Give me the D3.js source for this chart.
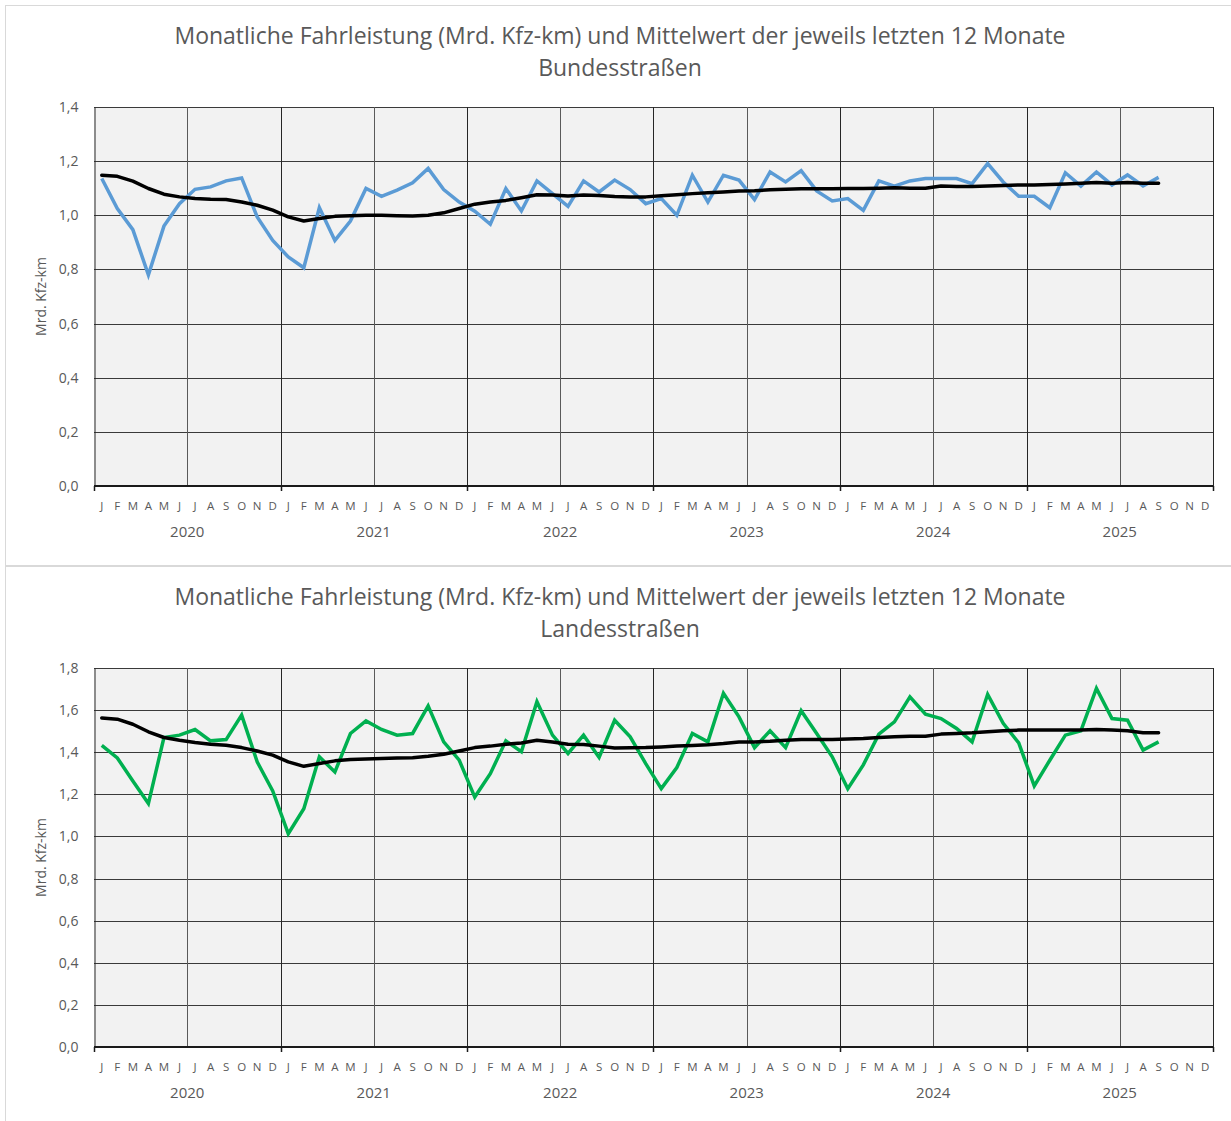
<!DOCTYPE html>
<html>
<head>
<meta charset="utf-8">
<script src="https://cdn.jsdelivr.net/npm/d3@7"></script>
<style>
  body { margin: 0; background: #fff; }
  svg { display: block; font-family: "Open Sans", "Noto Sans", sans-serif; }
</style>
</head>
<body>
<svg id="chart" width="1231" height="1121"></svg>
<script>
// Monatsbuchstaben und Jahre der x-Achse
var monthLetters = ["J","F","M","A","M","J","J","A","S","O","N","D"];
var years = ["2020","2021","2022","2023","2024","2025"];

// Bundesstraßen: Monatswerte Jan 2020 - Sep 2025 (Mrd. Kfz-km)
var bundMonat = [1.136,1.025,0.947,0.78,0.96,1.043,1.096,1.105,1.127,1.138,0.994,0.907,
  0.846,0.806,1.028,0.907,0.979,1.099,1.07,1.093,1.12,1.173,1.095,1.049,
  1.015,0.967,1.099,1.016,1.127,1.08,1.033,1.127,1.086,1.13,1.095,1.043,
  1.062,1.0,1.148,1.049,1.148,1.13,1.058,1.16,1.123,1.165,1.09,1.053,
  1.062,1.018,1.127,1.108,1.127,1.136,1.136,1.136,1.117,1.191,1.123,1.07,
  1.07,1.028,1.157,1.108,1.16,1.112,1.149,1.108,1.14];
// Bundesstraßen: Mittelwert der letzten 12 Monate
var bundMittel = [1.148,1.144,1.126,1.099,1.078,1.068,1.062,1.059,1.058,1.049,1.037,1.019,
  0.994,0.979,0.988,0.996,0.998,1.0,1.0,0.998,0.997,1.0,1.009,1.025,
  1.041,1.049,1.055,1.065,1.076,1.075,1.071,1.075,1.073,1.069,1.068,1.068,
  1.072,1.076,1.08,1.083,1.086,1.09,1.091,1.094,1.096,1.098,1.098,1.098,
  1.099,1.099,1.1,1.102,1.1,1.1,1.108,1.106,1.106,1.108,1.11,1.112,
  1.112,1.114,1.116,1.118,1.121,1.118,1.121,1.118,1.118];

// Landesstraßen: Monatswerte Jan 2020 - Sep 2025
var landMonat = [1.433,1.373,1.263,1.156,1.47,1.481,1.508,1.454,1.46,1.576,1.354,1.216,
  1.013,1.132,1.378,1.306,1.489,1.549,1.508,1.481,1.489,1.62,1.449,1.362,
  1.187,1.298,1.454,1.402,1.64,1.481,1.394,1.481,1.375,1.552,1.473,1.346,
  1.227,1.327,1.489,1.449,1.68,1.568,1.422,1.502,1.422,1.597,1.489,1.378,
  1.227,1.34,1.486,1.544,1.663,1.581,1.56,1.513,1.449,1.675,1.537,1.444,
  1.24,1.362,1.481,1.502,1.703,1.56,1.552,1.41,1.449];
// Landesstraßen: Mittelwert der letzten 12 Monate
var landMittel = [1.563,1.557,1.533,1.497,1.47,1.457,1.446,1.438,1.433,1.422,1.406,1.386,
  1.354,1.333,1.346,1.359,1.365,1.368,1.37,1.373,1.374,1.381,1.39,1.406,
  1.422,1.429,1.438,1.444,1.457,1.449,1.438,1.437,1.429,1.42,1.421,1.422,
  1.425,1.429,1.432,1.435,1.441,1.449,1.449,1.452,1.457,1.46,1.46,1.461,
  1.463,1.465,1.47,1.473,1.476,1.476,1.486,1.489,1.492,1.497,1.502,1.505,
  1.505,1.505,1.505,1.505,1.508,1.505,1.502,1.492,1.492];

var titleText = "Monatliche Fahrleistung (Mrd. Kfz-km) und Mittelwert der jeweils letzten 12 Monate";
var panelNames = ["Bundesstraßen", "Landesstraßen"];
var yMaxes = [1.4, 1.8];

var de = d3.formatLocale({decimal: ",", thousands: ".", grouping: [3], currency: ["", " €"]});
var fmt = de.format(".1f");
var textCol = "#595959";

var svg = d3.select("#chart");

var months = d3.range(years.length * 12);
var x = d3.scaleBand().domain(months).range([94, 1213]).paddingInner(0).paddingOuter(0);

function drawPanel(top, name, yMax, monat, mittel, color) {
  var g = svg.append("g").attr("transform", "translate(0," + top + ")");

  // Rahmen des Diagramms
  g.append("rect").attr("x", 5.5).attr("y", 0.5).attr("width", 1240).attr("height", 560)
    .attr("fill", "#fff").attr("stroke", "#d9d9d9");

  g.append("text").attr("x", 620).attr("y", 39).attr("text-anchor", "middle")
    .attr("fill", textCol).style("font-size", "23px").text(titleText);
  g.append("text").attr("x", 620).attr("y", 71).attr("text-anchor", "middle")
    .attr("fill", textCol).style("font-size", "23px").text(name);

  var y = d3.scaleLinear().domain([0, yMax]).range([481, 102]);

  g.append("rect").attr("x", x.range()[0]).attr("y", y(yMax))
    .attr("width", x.range()[1] - x.range()[0]).attr("height", y(0) - y(yMax))
    .attr("fill", "#f2f2f2");

  // horizontale Gitterlinien
  var yTicks = d3.range(0, yMax + 0.001, 0.2);
  g.append("g").selectAll("line").data(yTicks).join("line")
    .attr("x1", x.range()[0]).attr("x2", x.range()[1])
    .attr("y1", d => Math.round(y(d)) + 0.5).attr("y2", d => Math.round(y(d)) + 0.5)
    .attr("stroke", "#3a3a3a").attr("stroke-width", 1);

  // vertikale Gitterlinien alle 6 Monate
  var vLines = d3.range(6, months.length + 1, 6);
  g.append("g").selectAll("line").data(vLines).join("line")
    .attr("x1", d => Math.round(x(d - 1) + x.bandwidth()) + 0.5)
    .attr("x2", d => Math.round(x(d - 1) + x.bandwidth()) + 0.5)
    .attr("y1", y(yMax)).attr("y2", y(0))
    .attr("stroke", d => d % 12 === 0 ? "#262626" : "#5a5a5a").attr("stroke-width", 1);

  // y-Achse
  var yAxis = g.append("g").attr("transform", "translate(" + (x.range()[0] + 0.5) + ",0)")
    .call(d3.axisLeft(y).tickValues(yTicks).tickSize(0).tickPadding(16).tickFormat(fmt));
  yAxis.select(".domain").attr("stroke", "#262626");
  yAxis.selectAll("text").attr("fill", textCol).style("font-size", "14px")
    .style("font-family", "'Open Sans', sans-serif");

  // x-Achse: Linie und Jahres-Striche
  g.append("line").attr("x1", x.range()[0]).attr("x2", x.range()[1])
    .attr("y1", y(0)).attr("y2", y(0)).attr("stroke", "#1a1a1a").attr("stroke-width", 2);
  var yearEdges = d3.range(0, months.length + 1, 12);
  g.append("g").selectAll("line").data(yearEdges).join("line")
    .attr("x1", d => Math.round(d === 0 ? x.range()[0] : x(d - 1) + x.bandwidth()) + 0.5)
    .attr("x2", d => Math.round(d === 0 ? x.range()[0] : x(d - 1) + x.bandwidth()) + 0.5)
    .attr("y1", y(0)).attr("y2", y(0) + 5).attr("stroke", "#1a1a1a").attr("stroke-width", 1.5);

  g.append("g").selectAll("text").data(months).join("text")
    .attr("x", d => x(d) + x.bandwidth() / 2).attr("y", y(0) + 24)
    .attr("text-anchor", "middle").attr("fill", textCol).style("font-size", "11.5px")
    .text(d => monthLetters[d % 12]);

  g.append("g").selectAll("text").data(years).join("text")
    .attr("x", (d, i) => x(i * 12) + x.bandwidth() * 6).attr("y", y(0) + 51)
    .attr("text-anchor", "middle").attr("fill", textCol).style("font-size", "15px")
    .text(d => d);

  // y-Achsentitel
  var yMid = (y(0) + y(yMax)) / 2;
  g.append("text").attr("transform", "translate(46," + yMid + ") rotate(-90)")
    .attr("text-anchor", "middle").attr("fill", textCol).style("font-size", "14px")
    .text("Mrd. Kfz-km");

  // Linien
  var line = d3.line().x((d, i) => x(i) + x.bandwidth() / 2).y(d => y(d));
  g.append("path").datum(monat).attr("d", line).attr("fill", "none")
    .attr("stroke", color).attr("stroke-width", 3.5).attr("stroke-linejoin", "miter");
  g.append("path").datum(mittel).attr("d", line).attr("fill", "none")
    .attr("stroke", "#000").attr("stroke-width", 3.5).attr("stroke-linecap", "round")
    .attr("stroke-linejoin", "round");
}

drawPanel(5, panelNames[0], yMaxes[0], bundMonat, bundMittel, "#5b9bd5");
drawPanel(566, panelNames[1], yMaxes[1], landMonat, landMittel, "#00b050");
</script>
</body>
</html>
